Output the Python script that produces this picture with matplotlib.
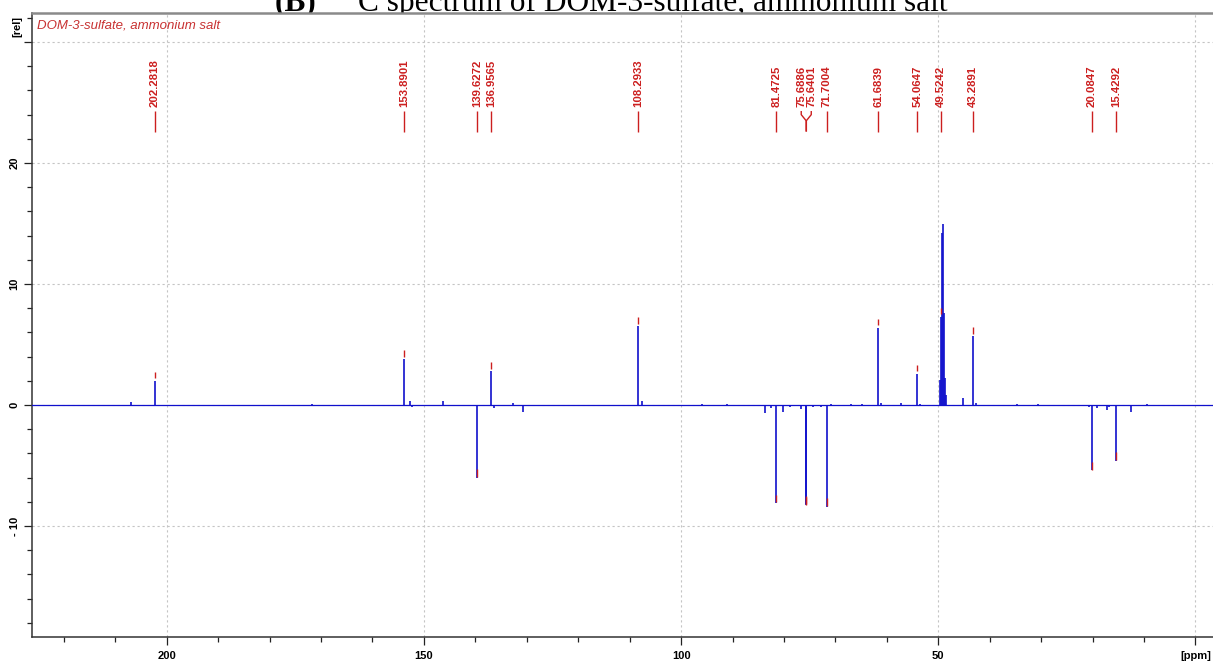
import matplotlib
matplotlib.use("Agg")
import matplotlib.pyplot as plt
import matplotlib.transforms as mtransforms
from matplotlib.ticker import FixedLocator, MultipleLocator
import numpy as np

# ---------------- data ----------------
label_ppm = [202.2818, 153.8901, 139.6272, 136.9565, 108.2933, 81.4725,
             75.6886, 75.6401, 71.7004, 61.6839, 54.0647, 49.5242,
             43.2891, 20.0847, 15.4292]
label_height = [2.0, 3.8, -6.0, 2.8, 6.5, -8.1,
                -8.2, -8.3, -8.4, 6.4, 2.6, 7.3,
                5.7, -5.4, -4.6]

solvent_ppm = [49.73, 49.31, 49.10, 48.89, 48.68, 48.47]
solvent_height = [2.1, 14.2, 15.0, 7.6, 2.2, 0.8]

minor_ppm = [207.0, 171.8, 152.7, 152.3, 146.3, 145.1, 136.4, 132.7, 130.8,
             121.9, 107.6, 107.2, 96.0, 91.0, 83.7, 82.6, 80.2, 78.9, 76.6,
             74.4, 72.8, 70.9, 67.0, 64.8, 61.1, 57.2, 53.5, 45.1, 42.6,
             34.6, 30.7, 20.7, 19.1, 17.1, 16.8, 12.5, 9.5]
minor_height = [0.25, 0.1, 0.35, -0.15, 0.35, -0.12, -0.25, 0.15, -0.55,
                -0.12, 0.35, -0.1, 0.1, 0.06, -0.65, -0.25, -0.55, -0.2, -0.3,
                -0.2, -0.15, 0.1, 0.05, 0.08, 0.2, 0.15, 0.1, 0.55, 0.2,
                0.06, 0.06, -0.2, -0.25, -0.45, -0.15, -0.55, 0.05]

x_major = [200, 150, 100, 50, 0]
x_major_labels = ["200", "150", "100", "50", "[ppm]"]
y_major = [30, 20, 10, 0, -10]
y_major_labels = ["", "20", "10", "0", "- 10"]

title_bold = "(B)"
title_sup = "13"
title_rest = "C spectrum of DOM-3-sulfate, ammonium salt"
sample_name = "DOM-3-sulfate, ammonium salt"

# ---------------- figure ----------------
W, H = 1213, 663
fig = plt.figure(figsize=(W / 100, H / 100), dpi=100)
ax = fig.add_axes([32 / W, (H - 637) / H, 1181 / W, 624 / H])
ax.set_zorder(0)
ax.set_facecolor("white")

ax.set_xlim(226.2, -3.42)
ax.set_ylim(-19.17, 32.40)

blue = "#1010cc"
red = "#cc1f1f"

# spectrum sticks
all_ppm = list(minor_ppm) + list(solvent_ppm) + list(label_ppm)
all_h = list(minor_height) + list(solvent_height) + list(label_height)
ax.axhline(0, color=blue, lw=0.9, zorder=3)
ax.vlines(all_ppm, 0, all_h, colors=blue, lw=1.2, zorder=3)

# red peak-pick markers at peak tips
for p, h in zip(label_ppm, label_height):
    if h > 0:
        ax.vlines(p, h + 0.2, h + 0.75, colors=red, lw=1.0, zorder=4)
    else:
        ax.vlines(p, h + 0.7, h + 0.05, colors=red, lw=1.0, zorder=4)

# peak labels with spreading of close labels
min_sep = 1.95
order = sorted(range(len(label_ppm)), key=lambda i: -label_ppm[i])
groups = []
for i in order:
    if groups and abs(label_ppm[groups[-1][-1]] - label_ppm[i]) < min_sep:
        groups[-1].append(i)
    else:
        groups.append([i])
label_x = {}
for g in groups:
    c = np.mean([label_ppm[i] for i in g])
    n = len(g)
    for k, i in enumerate(g):
        label_x[i] = c + (n - 1) / 2 * min_sep - k * min_sep

y_stem0, y_stem1, y_leg, y_top = 22.6, 23.5, 24.0, 24.3
for i, p in enumerate(label_ppm):
    lx = label_x[i]
    if abs(lx - p) < 1e-6:
        ax.plot([p, p], [y_stem0, y_top], color=red, lw=1.0, zorder=4,
                solid_capstyle="butt")
    else:
        ax.plot([p, p, lx, lx], [y_stem0, y_stem1, y_leg, y_top],
                color=red, lw=1.0, zorder=4, solid_capstyle="butt")
    ax.text(lx, y_top + 0.3, f"{p:.4f}", rotation=90, ha="center",
            va="bottom", color=red, fontsize=8.2, fontweight="bold",
            family="Liberation Sans", zorder=5)

# ticks
ax.xaxis.set_major_locator(FixedLocator(x_major))
ax.set_xticklabels(x_major_labels, fontsize=8, fontweight="bold",
                   family="Liberation Sans")
ax.xaxis.set_minor_locator(MultipleLocator(10))
ax.yaxis.set_major_locator(FixedLocator(y_major))
ax.set_yticklabels(y_major_labels, fontsize=8, fontweight="bold",
                   family="Liberation Sans", rotation=90, va="center")
ax.yaxis.set_minor_locator(MultipleLocator(2))
ax.tick_params(axis="both", which="major", length=6, width=0.9,
               color="#222222", direction="out")
ax.tick_params(axis="both", which="minor", length=3.5, width=0.9,
               color="#222222", direction="out")
ax.tick_params(axis="x", which="major", pad=4)
ax.tick_params(axis="y", which="major", pad=3)

# grid
ax.grid(True, which="major", color="#c4c4c4", lw=0.8,
        linestyle=(0, (2, 2.5)), zorder=1)
ax.set_axisbelow(True)

# spines
for s in ("left", "bottom"):
    ax.spines[s].set_color("#333333")
    ax.spines[s].set_linewidth(1.1)
ax.spines["top"].set_color("#8a8a8a")
ax.spines["top"].set_linewidth(1.8)
ax.spines["right"].set_visible(False)

# [rel] unit label
trans = mtransforms.blended_transform_factory(ax.transAxes, ax.transData)
ax.text(-15 / 1181, 31.3, "[rel]", transform=trans, rotation=90,
        ha="center", va="center", fontsize=8, fontweight="bold",
        family="Liberation Sans", clip_on=False)

# sample name
ax.text(5 / 1181, (637 - 25) / 624, sample_name, transform=ax.transAxes,
        ha="left", va="center", fontsize=9.5, style="italic",
        color="#c83232", family="Liberation Sans")

# title (clipped at top of image, as in the reference)
ybase = 1 - 10.5 / H
fig.text(275 / W, ybase, title_bold, fontsize=22.6, fontweight="bold",
         family="Liberation Serif", va="baseline", ha="left", zorder=-1)
fig.text(328 / W, ybase + 13 / H, title_sup, fontsize=14,
         family="Liberation Serif", va="baseline", ha="left", zorder=-1)
fig.text(358 / W, ybase, title_rest, fontsize=22.6,
         family="Liberation Serif", va="baseline", ha="left", zorder=-1)

fig.savefig("out.png", dpi=100, facecolor="white")
